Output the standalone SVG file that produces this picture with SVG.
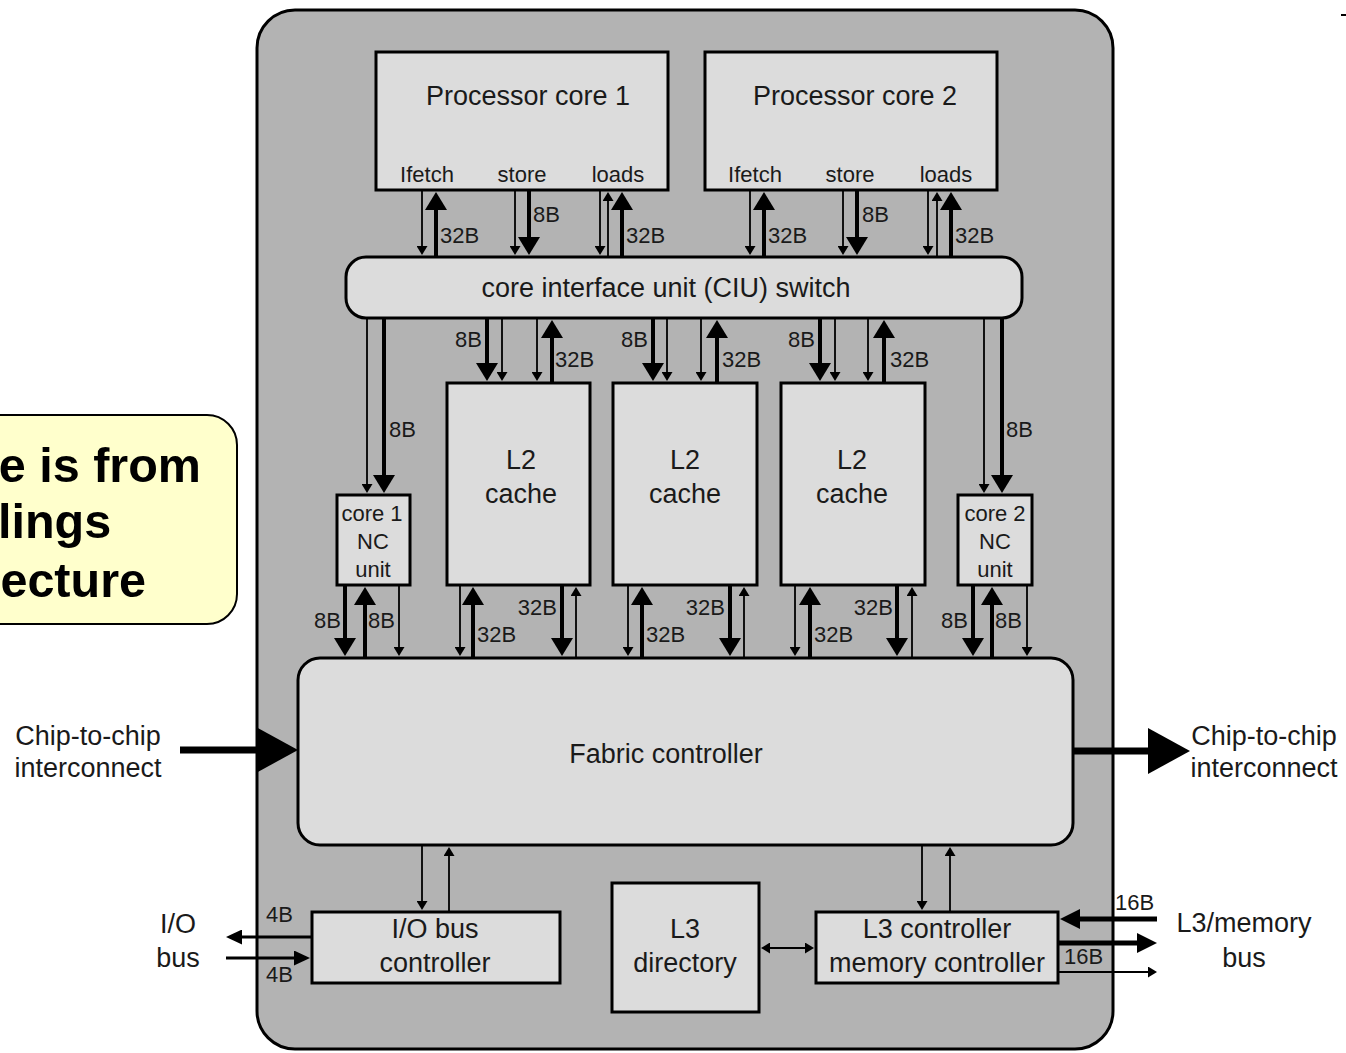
<svg xmlns="http://www.w3.org/2000/svg" width="1346" height="1053" viewBox="0 0 1346 1053">
<style>
.chip{fill:#b3b3b3;stroke:#000;stroke-width:3}
.box{fill:#dcdcdc;stroke:#000;stroke-width:3}
.t{font-family:"Liberation Sans",Arial,sans-serif;font-size:27px;fill:#1a1a1a;text-anchor:middle}
.s{font-family:"Liberation Sans",Arial,sans-serif;font-size:22px;fill:#1a1a1a}
.e{text-anchor:end}
.m{text-anchor:middle}
.thin{stroke:#000;stroke-width:1.8;fill:none;marker-end:url(#hs)}
.thick{stroke:#000;stroke-width:4;fill:none;marker-end:url(#hb)}
.call{font-family:"Liberation Sans",Arial,sans-serif;font-weight:bold;font-size:48.5px;fill:#000;text-anchor:end}
</style>
<defs>
<marker id="hb" viewBox="0 0 18 22" markerWidth="18" markerHeight="22" refX="8" refY="11" orient="auto" markerUnits="userSpaceOnUse"><path d="M0,0 L18,11 L0,22 Z" fill="#000"/></marker>
<marker id="hs" viewBox="0 0 9 11" markerWidth="9" markerHeight="11" refX="4" refY="5.5" orient="auto-start-reverse" markerUnits="userSpaceOnUse"><path d="M0,0 L9,5.5 L0,11 Z" fill="#000"/></marker>
<marker id="hm" viewBox="0 0 16 15" markerWidth="16" markerHeight="15" refX="6" refY="7.5" orient="auto" markerUnits="userSpaceOnUse"><path d="M0,0 L16,7.5 L0,15 Z" fill="#000"/></marker>
<marker id="hl" viewBox="0 0 20 20" markerWidth="20" markerHeight="20" refX="8" refY="10" orient="auto" markerUnits="userSpaceOnUse"><path d="M0,0 L20,10 L0,20 Z" fill="#000"/></marker>
<marker id="hh" viewBox="0 0 42 46" markerWidth="42" markerHeight="46" refX="2" refY="23" orient="auto" markerUnits="userSpaceOnUse"><path d="M0,0 L42,23 L0,46 Z" fill="#000"/></marker>
</defs>
<rect x="0" y="0" width="1346" height="1053" fill="#fff"/>

<g id="callout">
<rect x="-40" y="415" width="277" height="209" rx="30" fill="#ffffcc" stroke="#000" stroke-width="2"/>
<text class="call" x="201" y="482">e is from</text>
<text class="call" x="-2" y="538" style="text-anchor:start">lings</text>
<text class="call" x="146" y="597">ecture</text>
</g>
<rect x="1341" y="14" width="5" height="2" fill="#000"/>

<g id="chip"><rect class="chip" x="257" y="10" width="856" height="1039" rx="38"/></g>

<g id="core1"><rect class="box" x="376" y="52" width="292" height="138"/>
<text class="t" x="528" y="105">Processor core 1</text>
<text class="s m" x="427" y="182">Ifetch</text><text class="s m" x="522" y="182">store</text><text class="s m" x="618" y="182">loads</text></g>
<g id="core2"><rect class="box" x="705" y="52" width="292" height="138"/>
<text class="t" x="855" y="105">Processor core 2</text>
<text class="s m" x="755" y="182">Ifetch</text><text class="s m" x="850" y="182">store</text><text class="s m" x="946" y="182">loads</text></g>

<g id="ciu"><rect class="box" x="346" y="257" width="676" height="61" rx="20"/>
<text class="t" x="666" y="297">core interface unit (CIU) switch</text></g>

<g id="l2a"><rect class="box" x="447" y="383" width="143" height="202"/><text class="t" x="521" y="469">L2</text><text class="t" x="521" y="503">cache</text></g>
<g id="l2b"><rect class="box" x="613" y="383" width="144" height="202"/><text class="t" x="685" y="469">L2</text><text class="t" x="685" y="503">cache</text></g>
<g id="l2c"><rect class="box" x="781" y="383" width="144" height="202"/><text class="t" x="852" y="469">L2</text><text class="t" x="852" y="503">cache</text></g>

<g id="nc1"><rect class="box" x="337" y="495" width="73" height="90"/>
<text class="s m" x="372" y="521">core 1</text><text class="s m" x="373" y="549">NC</text><text class="s m" x="373" y="577">unit</text></g>
<g id="nc2"><rect class="box" x="958" y="495" width="74" height="90"/>
<text class="s m" x="995" y="521">core 2</text><text class="s m" x="995" y="549">NC</text><text class="s m" x="995" y="577">unit</text></g>

<g id="fabric"><rect class="box" x="298" y="658" width="775" height="187" rx="22"/>
<text class="t" x="666" y="763">Fabric controller</text></g>

<g id="iobc"><rect class="box" x="312" y="912" width="248" height="71"/>
<text class="t" x="435" y="938">I/O bus</text><text class="t" x="435" y="972">controller</text></g>
<g id="l3dir"><rect class="box" x="612" y="883" width="147" height="129"/>
<text class="t" x="685" y="938">L3</text><text class="t" x="685" y="972">directory</text></g>
<g id="l3ctl"><rect class="box" x="816" y="912" width="242" height="71"/>
<text class="t" x="937" y="938">L3 controller</text><text class="t" x="937" y="972">memory controller</text></g>

<g id="ext-labels">
<text class="t" x="88" y="745">Chip-to-chip</text><text class="t" x="88" y="777">interconnect</text>
<text class="t" x="1264" y="745">Chip-to-chip</text><text class="t" x="1264" y="777">interconnect</text>
<text class="t" x="178" y="933">I/O</text><text class="t" x="178" y="967">bus</text>
<text class="t" x="1244" y="932">L3/memory</text><text class="t" x="1244" y="967">bus</text>
</g>

<g id="connectors">
<line class="thin" x1="422" y1="190" x2="422" y2="250"/>
<line class="thick" x1="436" y1="257" x2="436" y2="202"/>
<line class="thin" x1="515" y1="190" x2="515" y2="250"/>
<line class="thick" x1="529" y1="190" x2="529" y2="245"/>
<line class="thin" x1="600" y1="190" x2="600" y2="250"/>
<line class="thin" x1="608" y1="257" x2="608" y2="197"/>
<line class="thick" x1="622" y1="257" x2="622" y2="202"/>
<line class="thin" x1="750" y1="190" x2="750" y2="250"/>
<line class="thick" x1="764" y1="257" x2="764" y2="202"/>
<line class="thin" x1="843" y1="190" x2="843" y2="250"/>
<line class="thick" x1="857" y1="190" x2="857" y2="245"/>
<line class="thin" x1="928" y1="190" x2="928" y2="250"/>
<line class="thin" x1="937" y1="257" x2="937" y2="197"/>
<line class="thick" x1="951" y1="257" x2="951" y2="202"/>
<line class="thin" x1="367" y1="318" x2="367" y2="488"/>
<line class="thick" x1="384" y1="318" x2="384" y2="483"/>
<line class="thick" x1="487" y1="318" x2="487" y2="371"/>
<line class="thin" x1="502" y1="318" x2="502" y2="376"/>
<line class="thin" x1="537" y1="318" x2="537" y2="376"/>
<line class="thick" x1="552" y1="383" x2="552" y2="330"/>
<line class="thick" x1="653" y1="318" x2="653" y2="371"/>
<line class="thin" x1="667" y1="318" x2="667" y2="376"/>
<line class="thin" x1="701" y1="318" x2="701" y2="376"/>
<line class="thick" x1="717" y1="383" x2="717" y2="330"/>
<line class="thick" x1="820" y1="318" x2="820" y2="371"/>
<line class="thin" x1="835" y1="318" x2="835" y2="376"/>
<line class="thin" x1="868" y1="318" x2="868" y2="376"/>
<line class="thick" x1="884" y1="383" x2="884" y2="330"/>
<line class="thin" x1="984" y1="318" x2="984" y2="488"/>
<line class="thick" x1="1002" y1="318" x2="1002" y2="483"/>
<line class="thick" x1="345" y1="585" x2="345" y2="646"/>
<line class="thick" x1="365" y1="658" x2="365" y2="597"/>
<line class="thin" x1="399" y1="585" x2="399" y2="651"/>
<line class="thin" x1="460" y1="585" x2="460" y2="651"/>
<line class="thick" x1="473" y1="658" x2="473" y2="597"/>
<line class="thick" x1="562" y1="585" x2="562" y2="646"/>
<line class="thin" x1="576" y1="658" x2="576" y2="592"/>
<line class="thin" x1="628" y1="585" x2="628" y2="651"/>
<line class="thick" x1="642" y1="658" x2="642" y2="597"/>
<line class="thick" x1="730" y1="585" x2="730" y2="646"/>
<line class="thin" x1="744" y1="658" x2="744" y2="592"/>
<line class="thin" x1="795" y1="585" x2="795" y2="651"/>
<line class="thick" x1="810" y1="658" x2="810" y2="597"/>
<line class="thick" x1="897" y1="585" x2="897" y2="646"/>
<line class="thin" x1="912" y1="658" x2="912" y2="592"/>
<line class="thick" x1="973" y1="585" x2="973" y2="646"/>
<line class="thick" x1="992" y1="658" x2="992" y2="597"/>
<line class="thin" x1="1027" y1="585" x2="1027" y2="651"/>
<line class="thin" x1="422" y1="845" x2="422" y2="905"/>
<line class="thin" x1="449" y1="912" x2="449" y2="852"/>
<line class="thin" x1="922" y1="845" x2="922" y2="905"/>
<line class="thin" x1="950" y1="912" x2="950" y2="852"/>
<line class="thin" x1="766" y1="948" x2="809" y2="948" marker-start="url(#hs)"/>
<line x1="312" y1="937" x2="236" y2="937" stroke="#000" stroke-width="3" marker-end="url(#hm)"/>
<line x1="226" y1="958" x2="300" y2="958" stroke="#000" stroke-width="3" marker-end="url(#hm)"/>
<line x1="1157" y1="919" x2="1072" y2="919" stroke="#000" stroke-width="5" marker-end="url(#hl)"/>
<line x1="1058" y1="943" x2="1145" y2="943" stroke="#000" stroke-width="5" marker-end="url(#hl)"/>
<line class="thin" x1="1058" y1="972" x2="1152" y2="972"/>
<line x1="180" y1="750" x2="258" y2="750" stroke="#000" stroke-width="7" marker-end="url(#hh)"/>
<line x1="1073" y1="751" x2="1150" y2="751" stroke="#000" stroke-width="7" marker-end="url(#hh)"/>
</g>

<g id="width-labels">
<text class="s" x="440" y="243">32B</text><text class="s" x="533" y="222">8B</text><text class="s" x="626" y="243">32B</text>
<text class="s" x="768" y="243">32B</text><text class="s" x="862" y="222">8B</text><text class="s" x="955" y="243">32B</text>
<text class="s e" x="482" y="347">8B</text><text class="s" x="555" y="367">32B</text>
<text class="s e" x="648" y="347">8B</text><text class="s" x="722" y="367">32B</text>
<text class="s e" x="815" y="347">8B</text><text class="s" x="890" y="367">32B</text>
<text class="s" x="389" y="437">8B</text><text class="s" x="1006" y="437">8B</text>
<text class="s e" x="341" y="628">8B</text><text class="s" x="368" y="628">8B</text>
<text class="s" x="477" y="642">32B</text><text class="s e" x="557" y="615">32B</text>
<text class="s" x="646" y="642">32B</text><text class="s e" x="725" y="615">32B</text>
<text class="s" x="814" y="642">32B</text><text class="s e" x="893" y="615">32B</text>
<text class="s e" x="968" y="628">8B</text><text class="s" x="995" y="628">8B</text>
<text class="s" x="266" y="922">4B</text><text class="s" x="266" y="982">4B</text>
<text class="s" x="1115" y="910">16B</text><text class="s" x="1064" y="964">16B</text>
</g>
</svg>
